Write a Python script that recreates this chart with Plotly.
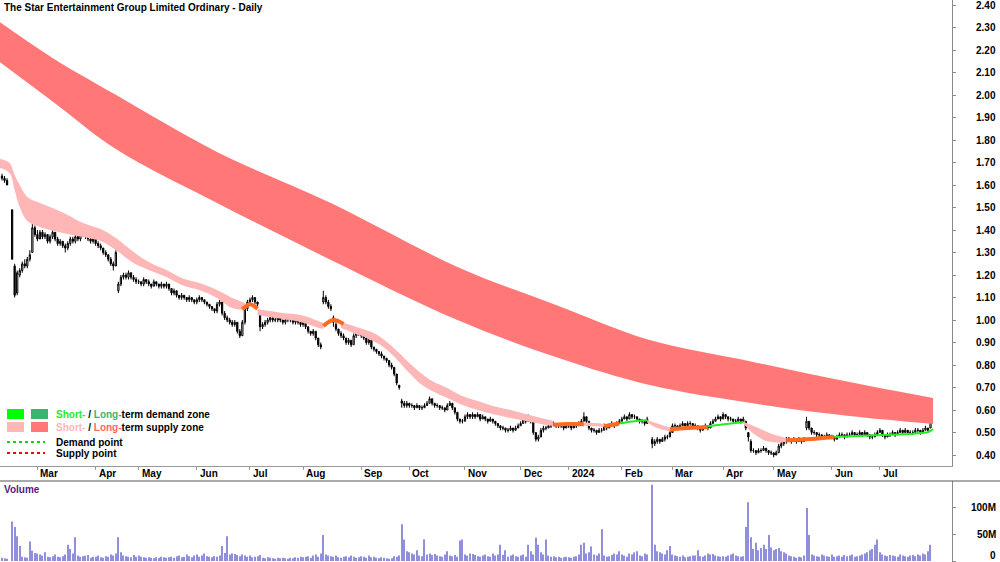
import plotly.graph_objects as go

# ---------------- data ----------------
title_text = "The Star Entertainment Group Limited Ordinary - Daily"
month_labels = ["Mar", "Apr", "May", "Jun", "Jul", "Aug", "Sep", "Oct", "Nov", "Dec",
                "2024", "Feb", "Mar", "Apr", "May", "Jun", "Jul"]
# trading-day slots per month (first entry = part of Feb 2023)
month_days = [14, 23, 17, 23, 21, 21, 23, 19, 22, 22, 19, 21, 20, 20, 20, 23, 19, 21]

price_ticks = [0.40, 0.50, 0.60, 0.70, 0.80, 0.90, 1.00, 1.10, 1.20, 1.30, 1.40,
               1.50, 1.60, 1.70, 1.80, 1.90, 2.00, 2.10, 2.20, 2.30, 2.40]
volume_ticks = [0, 50e6, 100e6]
volume_tick_text = ["0", "50M", "100M"]

# prices in cents, month by month
opens = (
    [164, 163, 162, None, 149, 124, 112, 120, 122, 125, 124, 127, 130, 141]
    + [138, 136, 139, 137, 138, 135, 137, 139, 136, 134, 135, 133, 132, 134, 136, 135, 137, 136, 138, 140, 137, 136, 135]
    + [136, 134, 133, 132, 130, 129, 127, 125, 124, 113, 116, 119, 120, 119, 121, 119, 118]
    + [117, 117, 116, 118, 117, 116, 115, 117, 116, 115, 116, 115, 116, 114, 112, 113, 111, 110, 111, 110, 109, 110, 109]
    + [108, 109, 110, 109, 108, 107, 106, 105, 104, 107, 108, 103, 101, 100, 99, 98, 99, 95, 93, 99, 105]
    + [108, 109, 110, 108, 103, 97, 98, 99, 100, 101, 100, 100, 101, 100, 99, 100, 101, 100, 99, 100, 99]
    + [98, 99, 97, 95, 94, 95, 92, 89, 108, 110, 108, 106, 101, 98, 96, 94, 93, 92, 90, 91, 89, 93, 95]
    + [94, 93, 92, 90, 91, 88, 87, 86, 85, 84, 83, 82, 80, 79, 76, 71, 64, 63, 62]
    + [63, 62, 62, 61, 62, 61, 61, 62, 63, 65, 63, 62, 62, 61, 61, 60, 62, 63, 61, 59, 56, 55]
    + [55, 57, 58, 57, 58, 57, 58, 56, 57, 56, 55, 56, 55, 54, 53, 52, 52, 51, 51, 52, 51, 52]
    + [53, 54, 56, 55, 57, 55, 50, 47, 48, 51, 52, 52, 53, 53, 54, 53, 53, 53, 52]
    + [53, 53, 52, 53, 53, 54, 55, 57, 55, 52, 51, 51, 50, 51, 51, 53, 52, 53, 54, 53, 54]
    + [55, 56, 57, 56, 58, 57, 57, 56, 55, 55, 54, None, 47, 45, 46, 47, 46, 47, 48, 48]
    + [50, 53, 53, 52, 53, 54, 53, 54, 54, 53, 53, 52, 51, 52, 53, 52, 54, 55, 56, 57]
    + [56, 58, 57, 56, 56, 55, 55, 56, 55, 55, 50, 46, 42, 42, 41, 42, 42, 43, 42, 41]
    + [41, 40, 41, 44, 45, 46, 47, 47, 46, 47, 46, 47, 46, 52, 55, 52, 50, 50, 49, 49, 48, 48, 49]
    + [48, 48, 47, 48, 49, 49, 48, 49, 49, 50, 49, 49, 50, 49, 50, 49, 48, 48, 49]
    + [50, 51, 49, 48, 49, 49, 50, 49, 50, 51, 50, 51, 50, 50, 50, 51, 51, 50, 51, 52, 52]
)
highs = (
    [165, 164, 163, None, 149, 125, 122, 123, 126, 127, 128, 131, 143, 142]
    + [140, 140, 140, 139, 138, 138, 140, 139, 137, 136, 135, 134, 135, 137, 137, 138, 138, 139, 141, 140, 138, 137, 137]
    + [136, 135, 134, 132, 131, 129, 128, 126, 131, 117, 120, 121, 121, 122, 121, 120, 119]
    + [118, 117, 119, 118, 118, 116, 118, 117, 116, 117, 116, 117, 116, 114, 114, 113, 111, 112, 111, 110, 111, 110, 109]
    + [110, 111, 110, 109, 108, 107, 106, 105, 108, 109, 108, 104, 102, 101, 100, 100, 99, 96, 100, 106, 109]
    + [110, 111, 110, 108, 103, 99, 100, 101, 102, 101, 101, 102, 101, 100, 101, 102, 101, 100, 101, 100, 99]
    + [100, 99, 97, 95, 96, 95, 92, 90, 113, 111, 109, 107, 102, 99, 96, 95, 94, 92, 92, 91, 94, 96, 95]
    + [94, 93, 92, 92, 91, 88, 87, 86, 86, 84, 83, 82, 81, 79, 76, 71, 65, 64, 64]
    + [63, 63, 62, 63, 62, 62, 63, 64, 66, 65, 63, 63, 62, 62, 61, 63, 64, 63, 61, 59, 56, 56]
    + [58, 59, 58, 59, 58, 59, 58, 58, 57, 56, 57, 56, 55, 54, 53, 53, 52, 52, 53, 52, 53, 54]
    + [55, 57, 56, 58, 57, 55, 50, 49, 52, 53, 53, 54, 54, 55, 54, 54, 54, 53, 54]
    + [54, 53, 54, 54, 55, 56, 59, 57, 55, 52, 52, 51, 52, 52, 54, 53, 54, 55, 54, 55, 56]
    + [57, 58, 57, 59, 58, 58, 57, 56, 56, 55, 57, None, 48, 47, 48, 47, 48, 49, 49, 51]
    + [54, 54, 53, 54, 55, 54, 55, 55, 54, 54, 53, 52, 53, 54, 53, 55, 56, 57, 58, 57]
    + [59, 58, 57, 57, 56, 56, 57, 56, 57, 55, 50, 47, 43, 42, 43, 43, 44, 43, 42, 42]
    + [41, 42, 45, 46, 47, 48, 48, 47, 48, 47, 48, 47, 48, 57, 55, 52, 51, 50, 50, 49, 49, 50, 49]
    + [49, 48, 49, 50, 50, 49, 50, 50, 51, 50, 50, 51, 50, 51, 50, 49, 49, 50, 51]
    + [52, 51, 49, 50, 50, 51, 50, 51, 52, 51, 52, 51, 51, 51, 52, 52, 51, 52, 53, 52, 59]
)
lows = (
    [162, 161, 160, None, 127, 110, 111, 119, 121, 123, 123, 126, 130, 137]
    + [135, 136, 136, 136, 134, 134, 136, 135, 133, 133, 132, 130, 131, 133, 134, 134, 135, 135, 137, 136, 135, 134, 134]
    + [133, 132, 131, 129, 128, 126, 124, 122, 124, 112, 115, 118, 118, 118, 118, 117, 116]
    + [116, 115, 115, 116, 115, 114, 115, 115, 114, 114, 114, 114, 113, 111, 111, 110, 109, 109, 109, 108, 108, 108, 107]
    + [107, 108, 108, 107, 106, 105, 104, 103, 103, 106, 102, 100, 99, 98, 97, 97, 94, 92, 93, 98, 104]
    + [107, 108, 107, 106, 95, 96, 97, 98, 99, 99, 99, 99, 99, 98, 98, 99, 99, 98, 98, 98, 97]
    + [97, 96, 94, 93, 93, 91, 88, 87, 107, 107, 105, 104, 97, 95, 93, 92, 91, 89, 89, 88, 89, 92, 93]
    + [92, 91, 89, 89, 87, 86, 85, 84, 83, 82, 81, 79, 78, 75, 71, 69, 61, 61, 61]
    + [61, 61, 60, 61, 60, 60, 61, 62, 63, 62, 61, 61, 60, 60, 59, 60, 62, 60, 58, 55, 54, 54]
    + [55, 56, 56, 56, 56, 57, 55, 56, 55, 54, 55, 54, 53, 52, 51, 51, 50, 50, 51, 50, 51, 52]
    + [53, 54, 54, 55, 54, 49, 46, 46, 48, 50, 51, 52, 52, 53, 52, 52, 52, 51, 52]
    + [52, 51, 52, 52, 53, 54, 55, 54, 51, 50, 50, 49, 50, 50, 51, 51, 52, 53, 52, 53, 54]
    + [55, 56, 55, 56, 56, 56, 55, 54, 54, 53, 54, None, 43, 44, 45, 45, 46, 46, 47, 48]
    + [50, 52, 51, 52, 53, 52, 53, 53, 52, 52, 51, 50, 51, 52, 51, 52, 54, 55, 56, 55]
    + [56, 56, 55, 55, 54, 54, 55, 54, 55, 51, 46, 41, 41, 40, 41, 41, 42, 41, 40, 40]
    + [39, 40, 41, 43, 44, 45, 46, 45, 46, 45, 46, 45, 46, 51, 51, 49, 49, 48, 48, 47, 47, 48, 47]
    + [47, 46, 47, 48, 48, 47, 48, 48, 49, 48, 48, 49, 48, 49, 48, 47, 47, 48, 49]
    + [50, 48, 47, 48, 48, 49, 48, 49, 50, 49, 50, 49, 49, 49, 50, 50, 49, 50, 51, 50, 52]
)
closes = (
    [163, 162, 160, None, 127, 111, 121, 122, 125, 124, 127, 129, 141, 138]
    + [136, 139, 137, 138, 135, 137, 139, 136, 134, 135, 133, 132, 134, 136, 135, 137, 136, 138, 140, 137, 136, 135, 136]
    + [134, 133, 132, 130, 129, 127, 125, 124, 130, 116, 119, 120, 119, 121, 119, 118, 117]
    + [117, 116, 118, 117, 116, 115, 117, 116, 115, 116, 115, 116, 114, 112, 113, 111, 110, 111, 110, 109, 110, 109, 108]
    + [109, 110, 109, 108, 107, 106, 105, 104, 107, 108, 103, 101, 100, 99, 98, 99, 95, 93, 99, 105, 108]
    + [109, 110, 108, 107, 97, 98, 99, 100, 101, 100, 100, 101, 100, 99, 100, 101, 100, 99, 100, 99, 98]
    + [99, 97, 95, 94, 95, 92, 89, 88, 110, 108, 106, 105, 99, 96, 94, 93, 92, 90, 91, 89, 93, 95, 94]
    + [93, 92, 90, 91, 88, 87, 86, 85, 84, 83, 82, 80, 79, 76, 72, 70, 63, 62, 63]
    + [62, 62, 61, 62, 61, 61, 62, 63, 65, 63, 62, 62, 61, 61, 60, 62, 63, 61, 59, 56, 55, 55]
    + [57, 58, 57, 58, 57, 58, 56, 57, 56, 55, 56, 55, 54, 53, 52, 52, 51, 51, 52, 51, 52, 53]
    + [54, 56, 55, 57, 55, 50, 47, 48, 51, 52, 52, 53, 53, 54, 53, 53, 53, 52, 53]
    + [53, 52, 53, 53, 54, 55, 57, 55, 52, 51, 51, 50, 51, 51, 53, 52, 53, 54, 53, 54, 55]
    + [56, 57, 56, 58, 57, 57, 56, 55, 55, 54, 56, None, 45, 46, 47, 46, 47, 48, 48, 50]
    + [53, 53, 52, 53, 54, 53, 54, 54, 53, 53, 52, 51, 52, 53, 52, 54, 55, 56, 57, 56]
    + [58, 57, 56, 56, 55, 55, 56, 55, 56, 52, 48, 42, 42, 41, 42, 42, 43, 42, 41, 41]
    + [40, 41, 44, 45, 46, 47, 47, 46, 47, 46, 47, 46, 47, 55, 52, 50, 50, 49, 49, 48, 48, 49, 48]
    + [48, 47, 48, 49, 49, 48, 49, 49, 50, 49, 49, 50, 49, 50, 49, 48, 48, 49, 50]
    + [51, 49, 48, 49, 49, 50, 49, 50, 51, 50, 51, 50, 50, 50, 51, 51, 50, 51, 52, 51, 58]
)
# volume in millions of shares
volumes_m = (
    [6, 5, 4, 0, 73, 63, 46, 28, 8, 7, 6, 36, 19, 15]
    + [14, 12, 10, 16, 8, 7, 9, 12, 8, 7, 9, 12, 30, 22, 14, 44, 10, 8, 9, 10, 11, 6, 8]
    + [8, 10, 7, 6, 9, 8, 12, 10, 14, 44, 16, 10, 9, 8, 7, 11, 8]
    + [10, 8, 7, 6, 7, 6, 5, 7, 6, 8, 7, 6, 7, 8, 6, 9, 10, 7, 8, 12, 9, 7, 10]
    + [12, 8, 10, 14, 9, 8, 7, 9, 8, 10, 28, 15, 46, 12, 14, 13, 11, 9, 12, 10, 8]
    + [10, 7, 8, 9, 11, 6, 5, 7, 6, 5, 4, 6, 5, 6, 5, 4, 6, 5, 7, 6, 8]
    + [7, 8, 9, 6, 10, 12, 8, 14, 48, 12, 10, 9, 8, 10, 7, 6, 8, 9, 7, 10, 8, 6, 7]
    + [9, 8, 6, 10, 7, 8, 6, 5, 7, 6, 5, 4, 5, 9, 8, 10, 68, 40, 18]
    + [16, 14, 12, 20, 10, 9, 40, 12, 14, 11, 13, 10, 9, 8, 12, 18, 10, 9, 11, 8, 38, 40]
    + [12, 10, 14, 13, 11, 9, 8, 10, 12, 9, 8, 14, 10, 12, 30, 11, 20, 8, 10, 12, 9, 8]
    + [10, 12, 8, 30, 18, 12, 43, 30, 16, 12, 40, 10, 8, 9, 7, 8, 6, 7, 8]
    + [7, 6, 8, 9, 12, 30, 34, 14, 16, 27, 12, 10, 14, 59, 10, 8, 9, 11, 14, 12, 18]
    + [12, 10, 8, 14, 12, 16, 18, 10, 9, 14, 12, 0, 141, 30, 18, 16, 14, 12, 20, 28]
    + [12, 10, 9, 8, 10, 7, 8, 9, 10, 10, 20, 9, 8, 10, 14, 12, 13, 10, 9, 8]
    + [9, 8, 10, 12, 14, 10, 9, 8, 9, 63, 109, 44, 22, 34, 20, 24, 30, 22, 48, 25]
    + [20, 22, 24, 18, 16, 14, 10, 9, 8, 6, 8, 7, 10, 98, 48, 12, 10, 9, 8, 12, 10, 9, 8]
    + [12, 8, 9, 10, 8, 11, 9, 10, 12, 8, 9, 10, 12, 14, 16, 20, 22, 30, 40]
    + [16, 12, 10, 9, 11, 10, 9, 8, 12, 10, 9, 8, 10, 11, 9, 12, 10, 14, 12, 18, 30]
)

# long-term supply zone (upper / lower edge, sampled at slots)
lt_slots = [-1, 20, 45, 85, 130, 180, 220, 256, 296, 335, 368]
lt_upper = [2.325, 2.165, 2.001, 1.747, 1.52, 1.236, 1.062, 0.911, 0.816, 0.724, 0.653]
lt_lower = [2.147, 1.971, 1.76, 1.52, 1.267, 1.0, 0.831, 0.711, 0.631, 0.573, 0.538]

# short-term supply zone segments (pink bands)
st_supply = [
    ([-1, 3, 5, 7, 10, 15, 19, 26, 32, 39, 45, 52, 58, 65, 71, 78, 85, 91, 96],
     [1.716, 1.698, 1.644, 1.60, 1.547, 1.52, 1.502, 1.467, 1.431, 1.404, 1.364, 1.302, 1.258, 1.222, 1.187, 1.164, 1.133, 1.098, 1.076],
     [1.676, 1.653, 1.578, 1.502, 1.44, 1.413, 1.40, 1.382, 1.369, 1.351, 1.311, 1.253, 1.222, 1.191, 1.156, 1.133, 1.098, 1.053, 1.044]),
    ([101, 106, 111, 118, 124, 127],
     [1.049, 1.04, 1.031, 1.022, 1.0, 0.987],
     [1.022, 1.013, 1.004, 0.991, 0.969, 0.96]),
    ([134, 139, 145, 149, 154, 157, 161, 165, 170, 176, 181, 188, 194, 201, 207, 213, 218],
     [0.991, 0.973, 0.951, 0.929, 0.884, 0.853, 0.809, 0.769, 0.729, 0.698, 0.667, 0.64, 0.618, 0.60, 0.582, 0.564, 0.551],
     [0.964, 0.942, 0.916, 0.893, 0.849, 0.813, 0.764, 0.72, 0.684, 0.653, 0.627, 0.60, 0.582, 0.564, 0.551, 0.538, 0.529]),
    ([230, 234, 238], [0.545, 0.542, 0.538], [0.53, 0.528, 0.526]),
    ([255, 259, 264], [0.556, 0.54, 0.522], [0.546, 0.52, 0.505]),
    ([293, 296, 299, 302, 306, 310], [0.548, 0.535, 0.52, 0.505, 0.488, 0.476], [0.54, 0.505, 0.48, 0.462, 0.456, 0.458]),
]
# transition (orange) segments
st_turn = [
    ([95, 98, 101], [1.048, 1.07, 1.05]),
    ([127, 131, 135], [0.973, 1.0, 0.982]),
    ([218, 224, 230], [0.535, 0.538, 0.537]),
    ([238, 244], [0.528, 0.54]),
    ([264, 271, 279], [0.515, 0.52, 0.525]),
    ([310, 318, 329], [0.465, 0.47, 0.48]),
]
# short-term demand (green) segments
st_demand = [
    ([244, 250, 255], [0.54, 0.55, 0.556]),
    ([279, 286, 293], [0.528, 0.538, 0.546]),
    ([329, 345, 360, 366, 368], [0.48, 0.488, 0.495, 0.502, 0.515]),
]

# ---------------- styling ----------------
W, H = 1000, 562
PLOT_W = 952
FONT = "Liberation Sans, Arial, sans-serif"
RED = "#FF7777"
PINK = "#FFB6B6"
ORANGE = "#FF6A1F"
GREEN = "#22EE22"
DKGREEN = "#3CB371"
VOLCOL = "#8F8FDB"
AXCOL = "#8A8A8A"


def xp(px):
    return px / PLOT_W


def yp(py):
    return 1 - py / H


slots = list(range(len(closes)))
month_starts = []
acc = 0
for d in month_days[:-1]:
    acc += d
    month_starts.append(acc)


def cents(v):
    return [None if a is None else a / 100 for a in v]


fig = go.Figure()

# long-term supply band
fig.add_trace(go.Scatter(x=lt_slots, y=lt_upper, mode="lines", line=dict(width=0, shape="spline", color=RED),
                         hoverinfo="skip", showlegend=False))
fig.add_trace(go.Scatter(x=lt_slots, y=lt_lower, mode="lines", line=dict(width=0, shape="spline", color=RED),
                         fill="tonexty", fillcolor=RED, hoverinfo="skip", showlegend=False))

# short-term supply bands
for xs, hi, lo in st_supply:
    fig.add_trace(go.Scatter(x=xs, y=hi, mode="lines", line=dict(width=0, shape="spline", color=PINK),
                             hoverinfo="skip", showlegend=False))
    fig.add_trace(go.Scatter(x=xs, y=lo, mode="lines", line=dict(width=0, shape="spline", color=PINK),
                             fill="tonexty", fillcolor=PINK, hoverinfo="skip", showlegend=False))
for xs, ys in st_turn:
    fig.add_trace(go.Scatter(x=xs, y=ys, mode="lines", line=dict(width=4, shape="spline", color=ORANGE),
                             hoverinfo="skip", showlegend=False))
for xs, ys in st_demand:
    fig.add_trace(go.Scatter(x=xs, y=ys, mode="lines", line=dict(width=2, shape="spline", color=GREEN),
                             hoverinfo="skip", showlegend=False))

# candles
fig.add_trace(go.Candlestick(
    x=slots, open=cents(opens), high=cents(highs), low=cents(lows), close=cents(closes),
    increasing=dict(line=dict(color="black", width=1), fillcolor="white"),
    decreasing=dict(line=dict(color="black", width=1), fillcolor="black"),
    whiskerwidth=0, showlegend=False, hoverinfo="skip", xaxis="x", yaxis="y"))

# volume
fig.add_trace(go.Bar(x=slots, y=[v * 1e6 for v in volumes_m], marker=dict(color=VOLCOL, line=dict(width=0)),
                     width=0.42, xaxis="x2", yaxis="y2", showlegend=False, hoverinfo="skip"))

price_top = 2.40 + 5 / 225
price_bot = 2.40 - (466 - 5) / 225
vol_scale = 0.54e-6  # px per share
vol_top = (561 - 481) / vol_scale
vol_bot = -(562 - 561) / vol_scale

x_range = [-(2 / 2.53), (PLOT_W - 2) / 2.53]

fig.update_layout(
    width=W, height=H, margin=dict(l=0, r=W - PLOT_W, t=0, b=0),
    paper_bgcolor="white", plot_bgcolor="white",
    font=dict(family=FONT, size=10, color="black"),
    showlegend=False, hovermode=False,
    xaxis=dict(domain=[0, 1], range=x_range, anchor="y", showline=True, linecolor="#9A9A9A", linewidth=1,
               ticks="outside", tickvals=month_starts, ticklen=3, tickcolor="#9A9A9A", showticklabels=False,
               showgrid=False, zeroline=False, rangeslider=dict(visible=False), fixedrange=True),
    yaxis=dict(domain=[yp(466), 1], range=[price_bot, price_top], side="right", anchor="x",
               showline=True, linecolor=AXCOL, linewidth=1, ticks="outside", ticklen=3, tickcolor=AXCOL,
               tickvals=price_ticks, showticklabels=False, showgrid=False, zeroline=False),
    xaxis2=dict(domain=[0, 1], range=x_range, anchor="y2", showline=False, ticks="", showticklabels=False,
                showgrid=False, zeroline=False),
    yaxis2=dict(domain=[0, yp(481)], range=[vol_bot, vol_top], side="right", anchor="x2",
                showline=True, linecolor=AXCOL, linewidth=1, ticks="outside", ticklen=3, tickcolor=AXCOL,
                tickvals=volume_ticks, showticklabels=False, showgrid=False, zeroline=False),
)

ann = []
shapes = []
# title
ann.append(dict(x=xp(2), y=yp(7), xref="paper", yref="paper", xanchor="left", yanchor="middle",
                text="<b>" + title_text + "</b>", showarrow=False, font=dict(size=10, color="black")))
# right price labels
for p in price_ticks:
    ann.append(dict(x=xp(998), y=p, xref="paper", yref="y", xanchor="right", yanchor="middle",
                    text="<b>%.2f</b>" % p, showarrow=False, font=dict(size=10, color="black")))
for v, t in zip(volume_ticks, volume_tick_text):
    ann.append(dict(x=xp(998), y=v, xref="paper", yref="y2", xanchor="right", yanchor="middle",
                    yshift=6 if v == 0 else 0,
                    text="<b>" + t + "</b>", showarrow=False, font=dict(size=10, color="black")))
# month labels
for s, lab in zip(month_starts, month_labels):
    ann.append(dict(x=s, y=yp(474), xref="x", yref="paper", xanchor="left", yanchor="middle", xshift=1,
                    text="<b>" + lab + "</b>", showarrow=False, font=dict(size=10, color="black")))
# volume title
ann.append(dict(x=xp(2), y=yp(489), xref="paper", yref="paper", xanchor="left", yanchor="middle",
                text="<b>Volume</b>", showarrow=False, font=dict(size=10, color="#551A8B")))

# legend
legend_rows = [
    (414, '<b><span style="color:#22EE22">Short-</span> / <span style="color:#3CB371">Long-</span>term demand zone</b>'),
    (427, '<b><span style="color:#FFB6B6">Short-</span> / <span style="color:#FF6666">Long-</span>term supply zone</b>'),
    (442, "<b>Demand point</b>"),
    (453, "<b>Supply point</b>"),
]
for py, txt in legend_rows:
    ann.append(dict(x=xp(54), y=yp(py), xref="paper", yref="paper", xanchor="left", yanchor="middle",
                    text=txt, showarrow=False, font=dict(size=10, color="black")))
for (x0, x1, y0, y1, c) in [(7, 24, 409, 419, "#00FF00"), (31, 48, 409, 419, DKGREEN),
                            (7, 24, 422, 432, PINK), (31, 48, 422, 432, RED)]:
    shapes.append(dict(type="rect", xref="paper", yref="paper", x0=xp(x0), x1=xp(x1), y0=yp(y1), y1=yp(y0),
                       fillcolor=c, line=dict(width=0), layer="above"))
shapes.append(dict(type="line", xref="paper", yref="paper", x0=xp(7), x1=xp(45), y0=yp(442), y1=yp(442),
                   line=dict(color="#00DD00", width=2, dash="dot")))
shapes.append(dict(type="line", xref="paper", yref="paper", x0=xp(7), x1=xp(45), y0=yp(453), y1=yp(453),
                   line=dict(color="#FF0000", width=2, dash="dot")))
# separator above volume panel
shapes.append(dict(type="line", xref="paper", yref="paper", x0=0, x1=W / PLOT_W, y0=yp(481), y1=yp(481),
                   line=dict(color="#555555", width=1)))

fig.update_layout(annotations=ann, shapes=shapes)
fig.write_html("out.html")
